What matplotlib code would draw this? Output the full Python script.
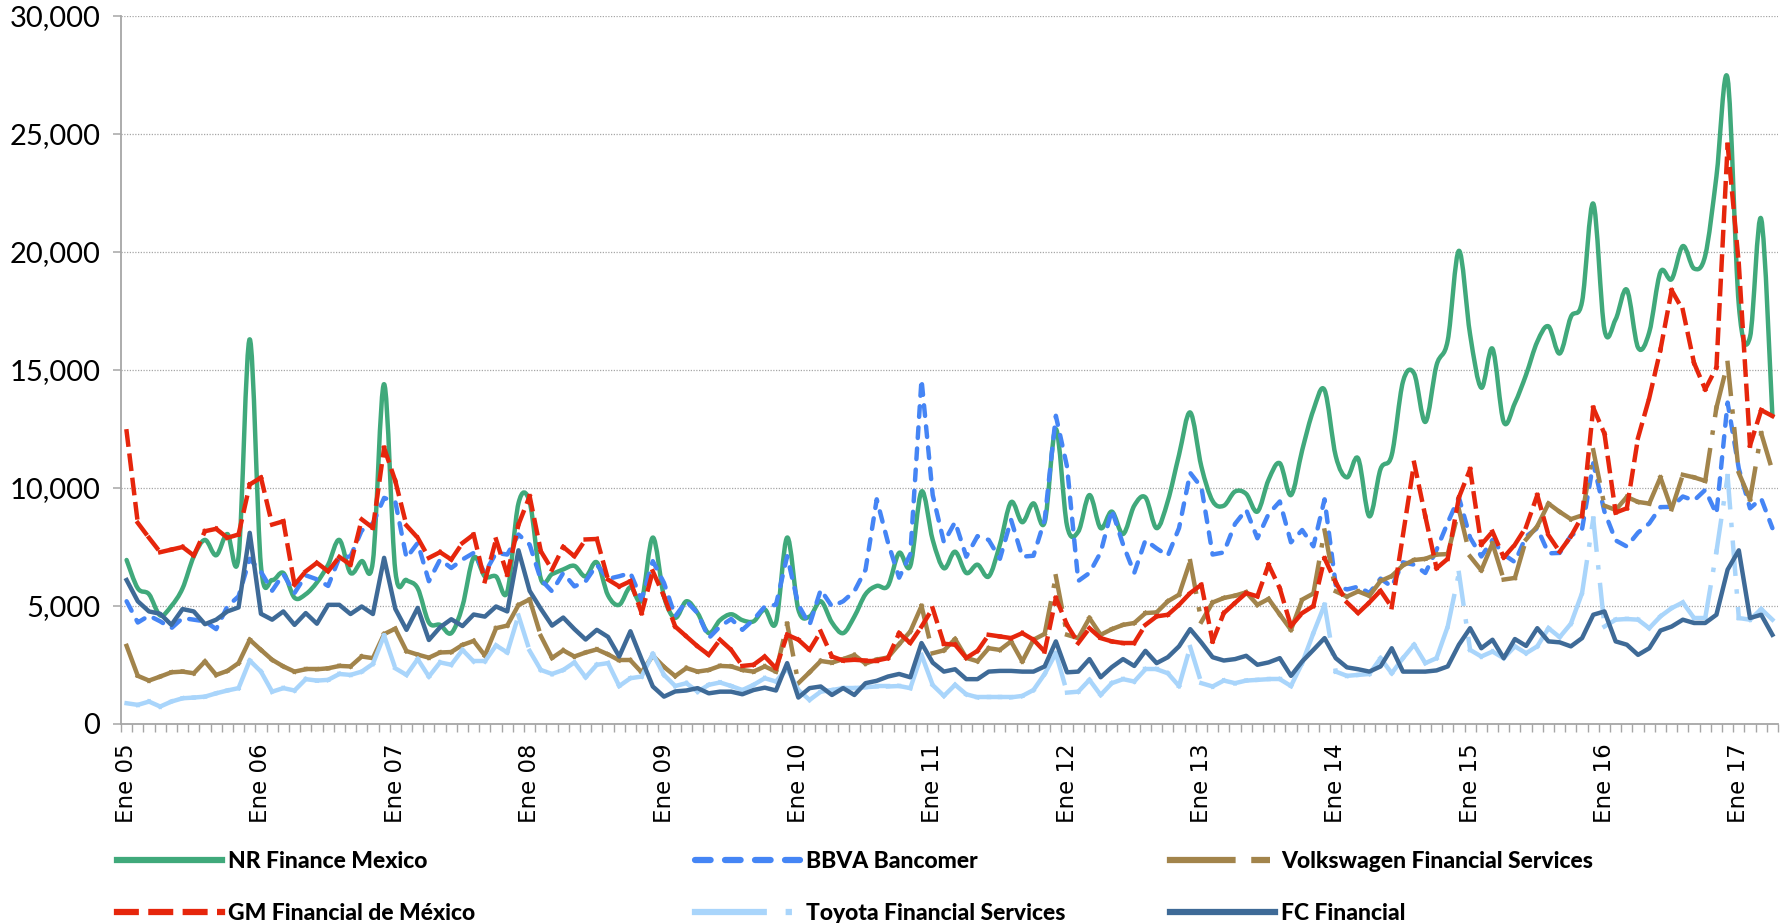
import numpy as np
import matplotlib
matplotlib.use("Agg")
import matplotlib.pyplot as plt
from matplotlib.path import Path
from matplotlib.patches import PathPatch
from matplotlib.collections import LineCollection
from matplotlib.lines import Line2D
from matplotlib.ticker import FuncFormatter
from matplotlib.font_manager import FontProperties

# ---------------- data ----------------
meses = ['Ene', 'Feb', 'Mar', 'Abr', 'May', 'Jun', 'Jul', 'Ago', 'Sep', 'Oct', 'Nov', 'Dic']
categories = [f"{m} {y:02d}" for y in range(5, 18) for m in meses][:148]

nr_finance = [
    6950, 5750, 5500, 4600, 5000, 5750, 7100, 7800, 7150, 8050, 7100, 16300,
    6700, 6100, 6400, 5350, 5500, 6000, 6750, 7800, 6400, 6900, 6900, 14400,
    6500, 6100, 5750, 4300, 4200, 3850, 5000, 7050, 6250, 6250, 5600, 9350,
    9400, 6150, 6350, 6550, 6700, 6250, 6850, 5450, 5050, 5800, 5250, 7900,
    5400, 4500, 5200, 4700, 3850, 4400, 4650, 4400, 4350, 4850, 4300, 7900,
    4850, 4550, 5200, 4300, 3850, 4550, 5500, 5850, 5850, 7250, 6700, 9850,
    7800, 6600, 7300, 6400, 6750, 6250, 7600, 9400, 8550, 9350, 8550, 12500,
    8400, 8150, 9700, 8300, 9000, 8050, 9250, 9600, 8300, 9450, 11400, 13200,
    10900, 9450, 9250, 9850, 9750, 9000, 10350, 11050, 9700, 11600, 13300, 14150,
    11350, 10450, 11250, 8800, 10800, 11400, 14500, 14850, 12800, 15200, 16250, 20050,
    16500, 14250, 15900, 12800, 13600, 14800, 16200, 16850, 15700, 17250, 17900, 22050,
    16700, 17150, 18400, 15950, 16600, 19150, 18850, 20250, 19300, 19850, 23200, 27350,
    17750, 16400, 21400, 13050]

bbva = [
    5200, 4300, 4590, 4350, 4060, 4490, 4420, 4350, 4020, 4980, 5410, 7000,
    6450, 5650, 6350, 5550, 6300, 6130, 5850, 7050, 7100, 8200, 8500, 9580,
    9420, 7040, 7670, 6050, 6970, 6610, 6970, 7250, 6400, 7250, 7180, 8030,
    7600, 6120, 5620, 6400, 5830, 6050, 6750, 6150, 6260, 6400, 5270, 6900,
    5980, 4560, 5200, 4700, 3640, 4130, 4450, 3990, 4420, 4980, 5050, 7110,
    5050, 4200, 5690, 4980, 5200, 5620, 6540, 9520, 7700, 6200, 7200, 14600,
    9700, 7700, 8560, 7090, 7960, 7800, 7000, 8650, 7090, 7130, 8650, 13060,
    10900, 6060, 6400, 7270, 9080, 7610, 6400, 7790, 7440, 7130, 8300, 10640,
    10030, 7180, 7270, 8480, 9080, 7870, 8900, 9430, 7700, 8220, 7530, 9520,
    5880, 5700, 5820, 5550, 6160, 5820, 6850, 6750, 6400, 7380, 8530, 9600,
    7900, 7100, 7800, 7180, 6860, 7950, 8300, 7230, 7250, 7980, 8260, 11050,
    9000, 7780, 7520, 8110, 8500, 9190, 9200, 9640, 9470, 9920, 8900, 13620,
    10820, 9140, 9550, 8300]

volkswagen = [
    3310, 2040, 1840, 2010, 2190, 2220, 2150, 2650, 2080, 2250, 2580, 3570,
    3140, 2720, 2440, 2220, 2320, 2320, 2360, 2460, 2440, 2860, 2790, 3810,
    4040, 3090, 2940, 2810, 3030, 3050, 3350, 3520, 2900, 4060, 4170, 5040,
    5280, 3730, 2800, 3120, 2860, 3030, 3160, 2950, 2700, 2700, 2190, 2900,
    2420, 2030, 2370, 2220, 2290, 2460, 2440, 2290, 2220, 2440, 2220, 4250,
    1730, 2190, 2670, 2600, 2750, 2920, 2560, 2730, 2820, 3380, 3920, 5000,
    3000, 3120, 3600, 2800, 2660, 3210, 3140, 3500, 2650, 3570, 3820, 6260,
    3780, 3640, 4490, 3780, 4020, 4200, 4280, 4700, 4730, 5200, 5480, 6900,
    4330, 5150, 5340, 5440, 5580, 5050, 5300, 4640, 3990, 5270, 5530, 8200,
    5620, 5400, 5620, 5430, 6060, 6270, 6720, 6950, 7000, 7180, 7200, 9090,
    7100, 6510, 7650, 6120, 6190, 7820, 8380, 9340, 8990, 8680, 8840, 11600,
    9250, 9070, 9620, 9410, 9340, 10450, 9100, 10560, 10450, 10300, 13400, 15300,
    10640, 9520, 12320, 10730]

gm_financial = [
    12400, 8520, 7890, 7280, 7390, 7500, 7140, 8170, 8270, 7890, 8030, 10150,
    10440, 8450, 8590, 5900, 6470, 6830, 6470, 7080, 6750, 8670, 8310, 11700,
    10300, 8410, 7890, 7040, 7280, 6970, 7670, 8030, 6050, 7820, 6330, 8450,
    9650, 7320, 6540, 7500, 7110, 7820, 7840, 6120, 5830, 6050, 4700, 6470,
    5410, 4130, 3710, 3290, 2930, 3570, 3140, 2460, 2510, 2860, 2360, 3780,
    3570, 3140, 3920, 2860, 2690, 2720, 2690, 2690, 2790, 3850, 3430, 4130,
    4900, 3400, 3360, 2800, 3100, 3780, 3710, 3640, 3850, 3570, 3070, 5340,
    4200, 3430, 4060, 3640, 3500, 3430, 3430, 4200, 4560, 4630, 5050, 5550,
    5900, 3500, 4700, 5130, 5550, 5410, 6750, 5750, 4150, 4700, 5000, 7020,
    6000, 5150, 4700, 5150, 5650, 4950, 8000, 11070, 8800, 6600, 7000, 9600,
    10800, 7600, 8150, 7060, 7600, 8350, 9700, 8000, 7300, 7950, 8800, 13400,
    12300, 8960, 9140, 12130, 13810, 15860, 18380, 17540, 15300, 14180, 15110, 24540,
    19500, 11800, 13300, 13050]

toyota = [
    880, 810, 950, 740, 950, 1090, 1120, 1160, 1300, 1420, 1520, 2690,
    2220, 1370, 1520, 1420, 1900, 1840, 1870, 2120, 2080, 2220, 2550, 3750,
    2360, 2080, 2750, 2010, 2610, 2510, 3140, 2650, 2650, 3330, 3030, 4600,
    3100, 2290, 2120, 2290, 2610, 1980, 2510, 2580, 1610, 1940, 2010, 2970,
    2080, 1610, 1730, 1370, 1660, 1760, 1610, 1440, 1660, 1940, 1800, 2360,
    1440, 1020, 1370, 1440, 1520, 1520, 1560, 1590, 1590, 1610, 1520, 2930,
    1650, 1190, 1660, 1260, 1130, 1130, 1130, 1130, 1190, 1440, 2120, 3000,
    1330, 1370, 1870, 1230, 1730, 1900, 1800, 2320, 2320, 2150, 1610, 3260,
    1730, 1590, 1840, 1730, 1840, 1870, 1900, 1900, 1610, 2580, 3850, 5050,
    2220, 2040, 2080, 2120, 2790, 2150, 2790, 3360, 2580, 2790, 4130, 6400,
    3140, 2860, 3070, 2790, 3290, 3000, 3290, 4060, 3680, 4250, 5550, 8700,
    4130, 4420, 4450, 4420, 4060, 4560, 4910, 5150, 4490, 4490, 7300, 10500,
    4490, 4420, 4870, 4420]

fc_financial = [
    6100, 5200, 4770, 4670, 4200, 4870, 4770, 4230, 4420, 4770, 4940, 8100,
    4670, 4420, 4770, 4200, 4700, 4250, 5050, 5050, 4660, 4980, 4660, 7040,
    4880, 3990, 4920, 3560, 4100, 4440, 4150, 4640, 4550, 4980, 4770, 7360,
    5640, 4880, 4170, 4510, 4020, 3580, 3990, 3690, 2860, 3930, 2740, 1590,
    1160, 1380, 1420, 1520, 1300, 1370, 1370, 1260, 1440, 1540, 1420, 2580,
    1120, 1520, 1590, 1230, 1520, 1230, 1730, 1830, 2010, 2120, 1980, 3430,
    2600, 2220, 2320, 1900, 1900, 2220, 2250, 2250, 2220, 2220, 2440, 3500,
    2190, 2220, 2750, 1980, 2410, 2750, 2460, 3100, 2580, 2830, 3290, 4020,
    3450, 2830, 2690, 2750, 2890, 2510, 2610, 2790, 2040, 2650, 3140, 3640,
    2790, 2400, 2320, 2220, 2440, 3210, 2220, 2220, 2220, 2270, 2440, 3360,
    4060, 3210, 3570, 2790, 3600, 3310, 4060, 3500, 3460, 3290, 3640, 4630,
    4770, 3500, 3360, 2930, 3210, 3960, 4130, 4420, 4280, 4280, 4630, 6540,
    7360, 4490, 4630, 3780]

series_names = ['NR Finance Mexico', 'BBVA Bancomer', 'Volkswagen Financial Services',
                'GM Financial de México', 'Toyota Financial Services', 'FC Financial']

# ---------------- style ----------------
C_NR = '#40a97b'
C_BBVA = '#4585f5'
C_VW = '#a2844b'
C_GM = '#e6260c'
C_TOY = '#a9d5fb'
C_FC = '#3e6a97'
LW = 3.2
LLW = 4.5
GRAY = '#a6a6a6'

N = len(categories)
x = np.arange(N) + 0.5

fig = plt.figure(figsize=(17.87, 9.23), dpi=100)
ax = fig.add_axes([121 / 1787, 1 - 724 / 923, (1778 - 121) / 1787, (724 - 16) / 923])
ax.set_xlim(0, N)
ax.set_ylim(0, 30000)

ax.yaxis.grid(True, linestyle=(0, (1, 1.2)), color=GRAY, lw=0.9)
ax.set_axisbelow(True)
for s in ['top', 'right']:
    ax.spines[s].set_visible(False)
for s in ['left', 'bottom']:
    ax.spines[s].set_color(GRAY)
    ax.spines[s].set_linewidth(1.3)

# NR smoothed curve (Bezier through data points)
P = np.column_stack([x, np.asarray(nr_finance, float)])
verts = [P[0]]
codes = [Path.MOVETO]
for i in range(N - 1):
    p0 = P[i - 1] if i > 0 else P[i]
    p1, p2 = P[i], P[i + 1]
    p3 = P[i + 2] if i + 2 < N else P[i + 1]
    verts += [p1 + (p2 - p0) / 6.0, p2 - (p3 - p1) / 6.0, p2]
    codes += [Path.CURVE4] * 3
ax.add_patch(PathPatch(Path(verts, codes), fill=False, edgecolor=C_NR, lw=LW,
                       capstyle='round', joinstyle='round', zorder=2))

# BBVA dashed
ax.plot(x, bbva, color=C_BBVA, lw=LW, dashes=(2.4, 2.36), dash_capstyle='round',
        solid_joinstyle='round', zorder=3)


def seg_collection(values, color, dashes, z):
    pts = np.column_stack([x, np.asarray(values, float)])
    segs = np.stack([pts[:-1], pts[1:]], axis=1)
    lc = LineCollection(segs, colors=color, linewidths=LW, linestyles=[(0, dashes)],
                        capstyle='projecting', joinstyle='round', zorder=z)
    ax.add_collection(lc)


seg_collection(volkswagen, C_VW, (7, 4, 0.01, 4), 4)
seg_collection(gm_financial, C_GM, (3, 2.5), 5)
seg_collection(toyota, C_TOY, (7, 4, 0.01, 4), 6)
ax.plot(x, fc_financial, color=C_FC, lw=LW, solid_joinstyle='round', zorder=7)

# y axis
ax.set_yticks(np.arange(0, 30001, 5000))
ax.yaxis.set_major_formatter(FuncFormatter(lambda v, p: f"{v:,.0f}"))
ax.tick_params(axis='y', length=6, width=1.1, color=GRAY, pad=9, labelsize=21)
for lab in ax.get_yticklabels():
    lab.set_family(['Lato', 'DejaVu Sans'])

# x axis
jan_idx = [i for i, c in enumerate(categories) if c.startswith('Ene')]
ax.set_xticks(x[jan_idx])
ax.set_xticklabels([categories[i] for i in jan_idx], rotation=90, fontsize=16.5,
                   family='DejaVu Sans')
ax.set_xticks(np.arange(0, N + 1), minor=True)
ax.tick_params(axis='x', which='major', length=0, pad=14)
ax.tick_params(axis='x', which='minor', length=6, width=1.0, color=GRAY)

# legend
fp = FontProperties(family=['Lato', 'DejaVu Sans'], weight='black', size=16.5)
h_nr = Line2D([], [], color=C_NR, lw=LLW)
h_bbva = Line2D([], [], color=C_BBVA, lw=LLW, dashes=(2.5, 2.3), dash_capstyle='round')
h_vw = Line2D([], [], color=C_VW, lw=LLW, dashes=(10, 3.5, 2, 3.5), dash_capstyle='projecting')
h_gm = Line2D([], [], color=C_GM, lw=LLW, dashes=(3, 2.5), dash_capstyle='projecting')
h_toy = Line2D([], [], color=C_TOY, lw=LLW, dashes=(11, 4, 0.01, 4), dash_capstyle='projecting')
h_fc = Line2D([], [], color=C_FC, lw=LLW)

cols = [(117 / 1787, [h_nr, h_gm], [series_names[0], series_names[3]]),
        (695 / 1787, [h_bbva, h_toy], [series_names[1], series_names[4]]),
        (1170 / 1787, [h_vw, h_fc], [series_names[2], series_names[5]])]
for xpos, hs, ls in cols:
    fig.legend(hs, ls, loc='upper left', bbox_to_anchor=(xpos, 1 - 851 / 923),
               frameon=False, borderpad=0, borderaxespad=0, handlelength=4.6,
               handletextpad=0.25, labelspacing=1.35, prop=fp)

fig.savefig('out.png', dpi=100)
